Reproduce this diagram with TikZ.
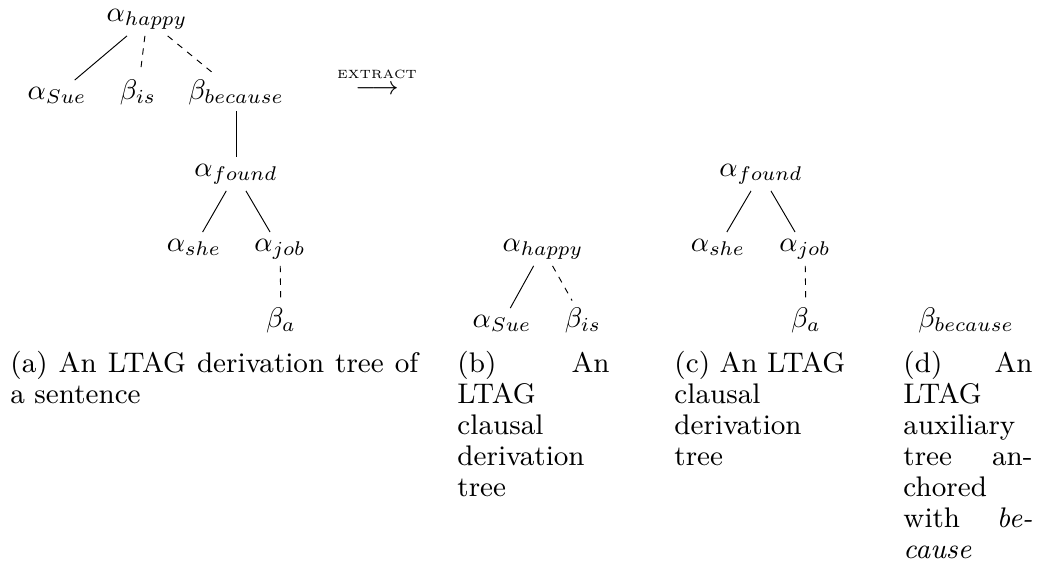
\documentclass[tikz,border=0pt]{standalone}
\usepackage{graphicx}
\newcommand{\tlbl}[1]{\scalebox{0.9}{$#1$}}
\begin{document}
\begin{tikzpicture}[x=0.3175pt,y=-0.3175pt,
  tn/.style={anchor=base, inner sep=2pt},
  sub/.style={dash pattern=on 2pt off 2pt},
  captext/.style={font=\fontsize{9}{9.85}\selectfont, anchor=base west, inner sep=0pt, align=left},
  line width=0.3pt]
\useasboundingbox (0,0) rectangle (1037,566);
% (a) derivation tree of the sentence
\node[tn] (happy) at (147,21) {\tlbl{\alpha_{happy}}};
\node[tn] (sue) at (57,99) {\tlbl{\alpha_{Sue}}};
\node[tn] (is) at (138,99) {\tlbl{\beta_{is}}};
\node[tn] (because) at (236,99) {\tlbl{\beta_{because}}};
\node[tn] (found) at (236,176) {\tlbl{\alpha_{found}}};
\node[tn] (she) at (194,251) {\tlbl{\alpha_{she}}};
\node[tn] (job) at (280,251) {\tlbl{\alpha_{job}}};
\node[tn] (a) at (281,327) {\tlbl{\beta_a}};
\draw (happy) -- (sue);
\draw[sub] (happy) -- (is);
\draw[sub] (happy) -- (because);
\draw (because) -- (found);
\draw (found) -- (she);
\draw (found) -- (job);
\draw[sub] (job) -- (a);
\node (extract) at (377,81) {\fontsize{7.6}{9}\selectfont
  $\stackrel{\mbox{\scalebox{0.76}{\fontsize{5}{6}\selectfont EXTRACT}}}{\longrightarrow}$};
% (b) clausal tree
\node[tn] (happy2) at (543,251) {\tlbl{\alpha_{happy}}};
\node[tn] (sue2) at (502,327) {\tlbl{\alpha_{Sue}}};
\node[tn] (is2) at (583,327) {\tlbl{\beta_{is}}};
\draw (happy2) -- (sue2);
\draw[sub] (happy2) -- (is2);
% (c) clausal tree
\node[tn] (found2) at (761,176) {\tlbl{\alpha_{found}}};
\node[tn] (she2) at (718,251) {\tlbl{\alpha_{she}}};
\node[tn] (job2) at (805,251) {\tlbl{\alpha_{job}}};
\node[tn] (a2) at (806,327) {\tlbl{\beta_a}};
\draw (found2) -- (she2);
\draw (found2) -- (job2);
\draw[sub] (job2) -- (a2);
% (d) auxiliary tree
\node[tn] (because2) at (966,327) {\tlbl{\beta_{because}}};
% captions
\node[captext, text width=129.5pt] (capa) at (10,372.6)
  {(a)\hfill An\hfill LTAG\hfill derivation\hfill tree\hfill of\\a sentence};
\node[captext, text width=48.3pt] (capb) at (457,372.6)
  {(b)\hfill An\\LTAG\\clausal\\derivation\\tree};
\node[captext, text width=55.6pt] (capc) at (674,372.6)
  {(c) An LTAG\\clausal\\derivation\\tree};
\node[captext, text width=41pt] (capd) at (903,372.6)
  {(d)\hfill An\\LTAG\\auxiliary\\tree\hfill an-\\chored\\with\hfill\emph{be-}\\\emph{cause}};
\end{tikzpicture}
\end{document}
